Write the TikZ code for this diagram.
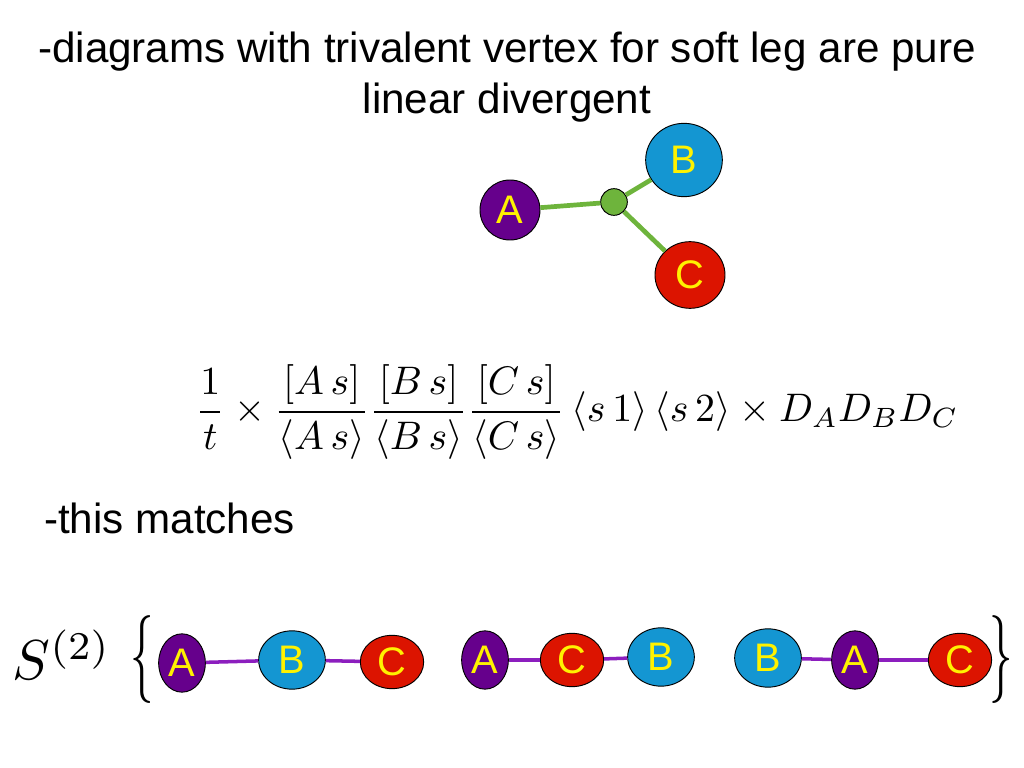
\documentclass[tikz,border=0pt]{standalone}
\usepackage{amsmath}
\usepackage{fontspec}
\setmainfont{Liberation Sans}
\usetikzlibrary{shapes,arrows}
\usetikzlibrary{positioning}

\definecolor{legpurple}{RGB}{102,0,140}
\definecolor{legblue}{RGB}{20,150,210}
\definecolor{legred}{RGB}{220,20,0}
\definecolor{leggreen}{RGB}{110,180,60}
\definecolor{linkpurple}{RGB}{140,30,190}

\tikzset{
  leg/.style={ellipse,draw=black,thick,text=yellow,inner sep=0pt,font=\fontsize{34}{34}\selectfont},
  legA/.style={leg,fill=legpurple,minimum width=1.4cm,minimum height=1.75cm},
  legB/.style={leg,fill=legblue,minimum width=2.0cm,minimum height=1.75cm},
  legC/.style={leg,fill=legred,minimum width=1.9cm,minimum height=1.6cm},
  soft/.style={line width=4pt,leggreen},
  link/.style={line width=3pt,linkpurple},
  words/.style={font=\fontsize{36}{44}\selectfont}
}

\begin{document}
\begin{tikzpicture}[x=0.03cm,y=-0.03cm]
			\useasboundingbox (0,0) rectangle (1024,768);
			\node[words,align=center] (title) at (507,77) {-diagrams with trivalent vertex for soft leg are pure\\linear divergent};
			% soft vertex
			\node[legA,minimum width=1.8cm,minimum height=1.8cm] (a) at (510,210) {A};
			\node[legB,minimum width=2.3cm,minimum height=2.2cm] (b) at (684,160) {B};
			\node[legC,minimum width=2.1cm,minimum height=2.0cm] (c) at (690,275) {C};
			\node[circle,draw=black,thick,fill=leggreen,minimum size=0.8cm,inner sep=0pt] (v) at (614,202) {};
			\draw[soft] (a) -- (v);
			\draw[soft] (v) -- (b);
			\draw[soft] (v) -- (c);
			\node (formula) at (577,412)
			  {\scalebox{3.4}{$\dfrac{1}{t}\times\dfrac{[A\,s]}{\langle A\,s\rangle}\dfrac{[B\,s]}{\langle B\,s\rangle}\dfrac{[C\,s]}{\langle C\,s\rangle}\,\langle s\,1\rangle\,\langle s\,2\rangle\times D_AD_BD_C$}};
			\node[words,anchor=west] (match) at (40,518) {-this matches};
			% orderings
			\node (s2) at (62,655) {\scalebox{4.8}{$S^{(2)}$}};
			\node (open) at (142,660) {\scalebox{4}[7.5]{$\{$}};
			\node[legA] (a1) at (182,663) {A};
			\node[legB] (b1) at (292,660) {B};
			\node[legC] (c1) at (392,662) {C};
			\draw[link] (a1) -- (b1);
			\draw[link] (b1) -- (c1);
			\node[legA] (a2) at (485,660) {A};
			\node[legC] (c2) at (572,660) {C};
			\node[legB] (b2) at (661,657) {B};
			\draw[link] (a2) -- (c2);
			\draw[link] (c2) -- (b2);
			\node[legB] (b3) at (768,658) {B};
			\node[legA] (a3) at (855,660) {A};
			\node[legC] (c3) at (960,660) {C};
			\draw[link] (b3) -- (a3);
			\draw[link] (a3) -- (c3);
			\node (close) at (1001,660) {\scalebox{4}[7.5]{$\}$}};
\end{tikzpicture}
\end{document}
